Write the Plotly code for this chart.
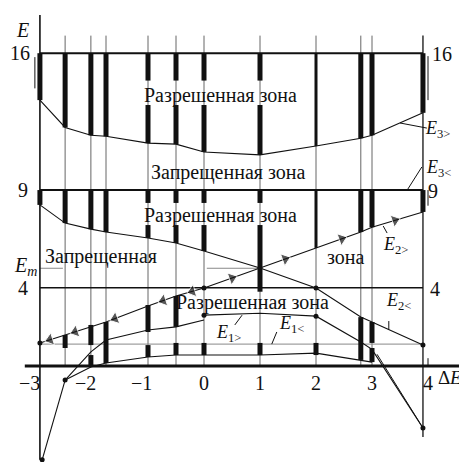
import numpy as np
import plotly.graph_objects as go

# ---------------- data ----------------
XG = [-2.93, -2.48, -2.02, -1.75, -1.0, -0.5, 0.0, 1.0, 2.0, 2.8, 3.0, 3.91]
E3_UP = [13.6, 12.2, 11.8, 11.75, 11.4, 11.35, 10.95, 10.8, 11.25, 11.65, 11.8, 12.95]
E2_RISE = [1.18, 1.59, 2.0, 2.25, 3.07, 3.58, 3.99, 5.01, 6.04, 6.85, 7.1, 7.88]
E2_FALL = [8.24, 7.31, 7.0, 6.85, 6.55, 6.29, 5.88, 5.01, 3.99, 2.51, 2.25, 1.07]

E1_RISE_X = [-2.48, -2.02, -1.75, -1.0, -0.5, 0.0]
E1_RISE = [-0.72, 0.72, 1.33, 1.84, 2.0, 2.35]
E1_DOME_X = [0.0, 1.0, 2.0, 2.8, 3.0, 3.91]
E1_DOME = [2.6, 2.7, 2.55, 1.23, 0.85, -3.17]
E1_LOW_X = [-2.48, -2.02, -1.75, -1.0, -0.5, 0.0, 1.0, 2.0, 2.8, 3.0]
E1_LOW = [-0.72, -0.05, 0.15, 0.46, 0.56, 0.56, 0.56, 0.66, 0.31, 0.2]
TAIL_X = [3.09, 3.91]
TAIL_E = [0.6, -3.17]
LEFT_TAIL_X = [-2.48, -2.89]
LEFT_TAIL_E = [-0.72, -4.8]

LEVELS = [16, 9, 4]
EM = 5.0
E_GREY = 1.12
GAP_X = [-1.0, -0.5, 0.0, 1.0]
GAP3 = [14.6, 13.35]
GAP2 = [8.34, 7.21]
BAND2_BOTTOM_AT_1 = 3.8

LOW_BAR_X = [-2.48, -2.02, -2.02, -1.75, -1.0, -1.0, -0.5, -0.5, 0.0, 1.0, 2.0, 2.8, 3.0, 3.0]
LOW_BAR_TOP = [1.59, 2.1, 0.56, 2.25, 3.12, 1.07, 3.58, 1.18, 1.18, 1.18, 1.18, 2.5, 2.25, 0.92]
LOW_BAR_BOT = [0.92, 1.07, 0.05, 0.15, 1.74, 0.46, 2.0, 0.56, 0.56, 0.56, 0.56, 0.31, 1.18, 0.2]

ARROW_LEFT_X = [-0.21, -0.73, -1.59, -2.30, -2.75]
ARROW_RIGHT_X = [0.5, 1.45, 2.46, 3.41]

DOT_X = [-2.93, -2.48, -2.89, 0.0, 2.0, 0.0, 2.0, 3.91, 3.91]
DOT_E = [1.18, -0.72, -4.8, 3.99, 3.99, 2.6, 2.55, 1.07, -3.17]

TICK_VALS = [-3, -2, -1, 0, 1, 2, 3, 4]
TICK_TEXT = ["\u22123", "\u22122", "\u22121", "0", "1", "2", "3", "4"]
LEVEL_TEXT = ["16", "9", "4"]

ZONE_ALLOWED = "Разрешенная зона"
ZONE_FORBIDDEN = "Запрещенная зона"

# ---------------- figure ----------------
fig = go.Figure()
BLACK = "#111111"
GREY = "#666666"
FONT = "Liberation Serif, Times New Roman, serif"


def seg_trace(xs, ys, width, color=BLACK, dash=None):
    fig.add_trace(go.Scatter(x=xs, y=ys, mode="lines",
                             line=dict(color=color, width=width, dash=dash),
                             hoverinfo="skip", showlegend=False))


def segments(pairs):
    xs, ys = [], []
    for (x0, y0, x1, y1) in pairs:
        xs += [x0, x1, None]
        ys += [y0, y1, None]
    return xs, ys

# vertical grid lines
xmin, xmax = XG[0], XG[-1]
grid = [(x, 16.9, x, 0) for x in XG[1:-1]]
gx, gy = segments(grid)
seg_trace(gx, gy, 1, GREY)
gx, gy = segments([(xmax, 16.9, xmax, -3.63)])
seg_trace(gx, gy, 1.3, BLACK)

# grey horizontal lines
gx, gy = segments([(xmin, E_GREY, xmax, E_GREY),
                   (xmin, EM, -2.52, EM), (0.05, EM, 1.0, EM)])
seg_trace(gx, gy, 1, "#888888")

# band levels
gx, gy = segments([(xmin, LEVELS[0], xmax, LEVELS[0]), (xmin, LEVELS[1], xmax, LEVELS[1])])
seg_trace(gx, gy, 2)
gx, gy = segments([(xmin, LEVELS[2], xmax, LEVELS[2])])
seg_trace(gx, gy, 1.5)

# axes
gx, gy = segments([(-3.2, 0, 4.57, 0)])
seg_trace(gx, gy, 3)
gx, gy = segments([(xmin, 17.95, xmin, -4.8)])
seg_trace(gx, gy, 1.6)

# curves
seg_trace(XG, E3_UP, 1.1)
seg_trace(XG, E2_RISE, 1.1)
seg_trace(XG, E2_FALL, 1.1)
seg_trace(E1_RISE_X, E1_RISE, 1.1)
seg_trace(E1_DOME_X, E1_DOME, 1.1)
seg_trace(E1_LOW_X, E1_LOW, 1.1)
seg_trace(TAIL_X, TAIL_E, 1.0)
seg_trace(LEFT_TAIL_X, LEFT_TAIL_E, 1.1)

# bars of allowed bands
thick, thin = [], []
for i, x in enumerate(XG):
    b3 = E3_UP[i]
    b2 = BAND2_BOTTOM_AT_1 if x == 1.0 else max(E2_RISE[i], E2_FALL[i])
    if x in GAP_X:
        parts = [(x, LEVELS[0], x, GAP3[0]), (x, GAP3[1], x, b3),
                 (x, LEVELS[1], x, GAP2[0]), (x, GAP2[1], x, b2)]
    else:
        parts = [(x, LEVELS[0], x, b3), (x, LEVELS[1], x, b2)]
    (thin if x == 2.0 else thick).extend(parts)
for x, t, b in zip(LOW_BAR_X, LOW_BAR_TOP, LOW_BAR_BOT):
    thick.append((x, t, x, b))
gx, gy = segments(thick)
seg_trace(gx, gy, 5)
gx, gy = segments(thin)
seg_trace(gx, gy, 3)

# small marker lines / label pointers
ptr = [(3.98, 12.17, 3.5, 12.43), (3.89, 10.18, 3.64, 9.05),
       (3.27, 6.8, 3.2, 7.16), (3.3, 2.3, 3.3, 1.87),
       (0.55, 2.1, 0.68, 2.6), (1.30, 1.74, 1.21, 1.12),
       (-3.02, 15.8, -3.02, 14.2), (4.0, 15.85, 4.0, 13.6),
       (4.0, 9.0, 4.0, 8.2), (4.0, 0.4, 4.0, 0.0)]
gx, gy = segments(ptr)
seg_trace(gx, gy, 1)

# dots
fig.add_trace(go.Scatter(x=DOT_X, y=DOT_E, mode="markers",
                         marker=dict(color=BLACK, size=5), hoverinfo="skip",
                         showlegend=False))

# arrows along E2 rising curve
for start, xs in [(0.05, ARROW_LEFT_X), (0.3, ARROW_RIGHT_X)]:
    ax = [start] + xs
    ay = list(np.interp(ax, XG, E2_RISE))
    fig.add_trace(go.Scatter(x=ax, y=ay, mode="markers",
                             marker=dict(symbol="triangle-up", size=[0] + [11] * len(xs),
                                         color=BLACK, angleref="previous"),
                             hoverinfo="skip", showlegend=False))

# ---------------- text ----------------
ann = []


def txt(x, y, s, size=19, xanchor="center", xshift=0):
    ann.append(dict(x=x, y=y, xref="x", yref="y", text=s, showarrow=False,
                    xanchor=xanchor, yanchor="middle", xshift=xshift,
                    borderpad=0,
                    font=dict(family=FONT, size=size, color=BLACK)))

ZS = 20
txt(0.30, 13.86, ZONE_ALLOWED, ZS)
txt(0.43, 9.92, ZONE_FORBIDDEN, ZS)
txt(0.30, 7.72, ZONE_ALLOWED, ZS)
fw = ZONE_FORBIDDEN.split(" ")
txt(-1.84, 5.58, fw[0], ZS)
txt(2.52, 5.58, fw[1], ZS)
txt(0.86, 3.25, ZONE_ALLOWED, ZS)

txt(-3.25, 17.19, "<i>E</i>", 20)
txt(-3.18, 5.1, "<i>E<sub>m</sub></i>", 20)
for lv, lt, xl, xr in zip(LEVELS, LEVEL_TEXT, [-3.29, -3.23, -3.23], [4.25, 4.09, 4.13]):
    txt(xl, lv, lt, 20)
    txt(xr, lv - 0.05, lt, 20)
for v, t in zip(TICK_VALS, TICK_TEXT):
    if v < 0:
        txt(v, -0.87, t, 20, xanchor="right", xshift=5)
    else:
        txt(v, -0.87, t, 20)
txt(4.28, -0.6, "\u0394", 19)
txt(4.49, -0.6, "<i>E</i>", 19)

LS = 18
txt(3.93, 12.12, "<i>E</i><sub>3&gt;</sub>", LS, xanchor="left")
txt(3.94, 10.08, "<i>E</i><sub>3&lt;</sub>", LS, xanchor="left")
txt(3.18, 6.14, "<i>E</i><sub>2&gt;</sub>", LS, xanchor="left")
txt(3.23, 3.32, "<i>E</i><sub>2&lt;</sub>", LS, xanchor="left")
txt(0.20, 1.64, "<i>E</i><sub>1&gt;</sub>", LS, xanchor="left")
txt(1.32, 2.1, "<i>E</i><sub>1&lt;</sub>", LS, xanchor="left")

# the page body keeps an 8px margin, so the figure covers page pixels 8..467 / 8..462
PX0, PY0 = 8, 8
fig.update_layout(
    width=467 - PX0, height=462 - PY0, autosize=False,
    margin=dict(l=0, r=0, t=0, b=0),
    paper_bgcolor="white", plot_bgcolor="white",
    font=dict(family=FONT, size=20, color=BLACK),
    xaxis=dict(range=[(PX0 - 204) / 56, (467 - 204) / 56], visible=False, fixedrange=True),
    yaxis=dict(range=[(366 - 462) / 19.55, (366 - PY0) / 19.55], visible=False, fixedrange=True),
    annotations=ann, showlegend=False,
)
fig.write_html("out.html")
